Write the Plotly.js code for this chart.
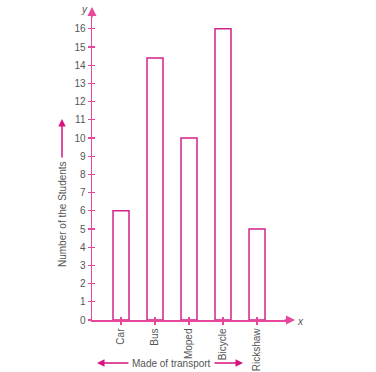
<!DOCTYPE html>
<html>
<head>
<meta charset="utf-8">
<script src="https://cdn.plot.ly/plotly-3.0.1.min.js"></script>
<style>html,body{margin:0;padding:0;background:#fff;}#chart{width:376px;height:372px;}</style>
</head>
<body>
<div id="chart"></div>
<script>
var categories = ["Car", "Bus", "Moped", "Bicycle", "Rickshaw"];
var students = [6, 14.4, 10, 16, 5];
var yTicks = [0,1,2,3,4,5,6,7,8,9,10,11,12,13,14,15,16];

var axisPink = '#e8479c';
var barPink = '#d4218b';
var arrowPink = '#d6137f';
var textGray = '#555555';
var fontFam = 'Liberation Sans, Arial, sans-serif';

var catIdx = categories.map(function(c, i){ return i; });

var traces = [
  {
    type: 'bar',
    x: catIdx,
    y: students,
    width: 0.47,
    marker: {color: '#ffffff', line: {color: barPink, width: 1.5}},
    hoverinfo: 'x+y'
  },
  {
    type: 'scatter', mode: 'markers',
    x: [catIdx[0]], y: [0], xaxis: 'x2', yaxis: 'y2',
    marker: {opacity: 0}, hoverinfo: 'skip', showlegend: false
  }
];

var xr = [-0.853, 4.97];
var yr = [0, 16.76];

function px(x){ return (x-92)/198; }
function py(y){ return (320-y)/305; }

var layout = {
  width: 376, height: 372,
  margin: {l: 92, r: 86, t: 15, b: 52},
  paper_bgcolor: '#ffffff', plot_bgcolor: '#ffffff',
  showlegend: false,
  bargap: 0,
  font: {family: fontFam, size: 10, color: textGray},
  xaxis: {
    range: xr, tickvals: catIdx, ticktext: categories,
    tickangle: -90, ticks: 'outside', ticklen: 3, tickwidth: 1.2, tickcolor: axisPink,
    showline: true, linecolor: axisPink, linewidth: 1.5,
    showgrid: false, zeroline: false,
    tickfont: {size: 10, color: textGray, family: fontFam}
  },
  yaxis: {
    range: yr, tickvals: yTicks,
    ticks: 'outside', ticklen: 3, tickwidth: 1.2, tickcolor: axisPink,
    showline: true, linecolor: axisPink, linewidth: 1.5,
    showgrid: false, zeroline: false,
    tickfont: {size: 10, color: textGray, family: fontFam}
  },
  xaxis2: {
    overlaying: 'x', anchor: 'y2', range: xr, tickvals: catIdx,
    ticks: 'inside', ticklen: 3, tickwidth: 1.2, tickcolor: axisPink,
    showticklabels: false, showline: false, showgrid: false, zeroline: false
  },
  yaxis2: {
    overlaying: 'y', anchor: 'x2', range: yr, tickvals: yTicks,
    ticks: 'inside', ticklen: 3, tickwidth: 1.2, tickcolor: axisPink,
    showticklabels: false, showline: false, showgrid: false, zeroline: false
  },
  annotations: [
    {xref: 'paper', yref: 'paper', x: 0, y: py(7), ax: 0, ay: 12, text: '',
     showarrow: true, arrowhead: 2, arrowsize: 1.2, arrowwidth: 1.5, arrowcolor: axisPink},
    {xref: 'paper', yref: 'paper', x: px(295), y: 0, ax: -12, ay: 0, text: '',
     showarrow: true, arrowhead: 2, arrowsize: 1.2, arrowwidth: 1.5, arrowcolor: axisPink},
    {xref: 'paper', yref: 'paper', x: px(84), y: py(9), xanchor: 'center', yanchor: 'middle',
     text: '<i>y</i>', showarrow: false, font: {size: 10, color: textGray, family: fontFam}},
    {xref: 'paper', yref: 'paper', x: px(300), y: py(321), xanchor: 'center', yanchor: 'middle',
     text: '<i>x</i>', showarrow: false, font: {size: 10, color: textGray, family: fontFam}},
    {xref: 'paper', yref: 'paper', x: px(62), y: py(214), xanchor: 'center', yanchor: 'middle',
     text: 'Number of the Students', textangle: -90, showarrow: false,
     font: {size: 10, color: textGray, family: fontFam}},
    {xref: 'paper', yref: 'paper', x: px(62), y: py(119), ax: 0, ay: 40, text: '',
     showarrow: true, arrowhead: 2, arrowsize: 1, arrowwidth: 1.5, arrowcolor: arrowPink},
    {xref: 'paper', yref: 'paper', x: px(171.5), y: py(363), xanchor: 'center', yanchor: 'middle',
     text: 'Made of transport', showarrow: false, font: {size: 10, color: textGray, family: fontFam}},
    {xref: 'paper', yref: 'paper', x: px(97), y: py(363), ax: 33, ay: 0, text: '',
     showarrow: true, arrowhead: 2, arrowsize: 1, arrowwidth: 1.5, arrowcolor: arrowPink},
    {xref: 'paper', yref: 'paper', x: px(243), y: py(363), ax: -30, ay: 0, text: '',
     showarrow: true, arrowhead: 2, arrowsize: 1, arrowwidth: 1.5, arrowcolor: arrowPink}
  ]
};

Plotly.newPlot('chart', traces, layout, {displayModeBar: false, staticPlot: true});
</script>
</body>
</html>
